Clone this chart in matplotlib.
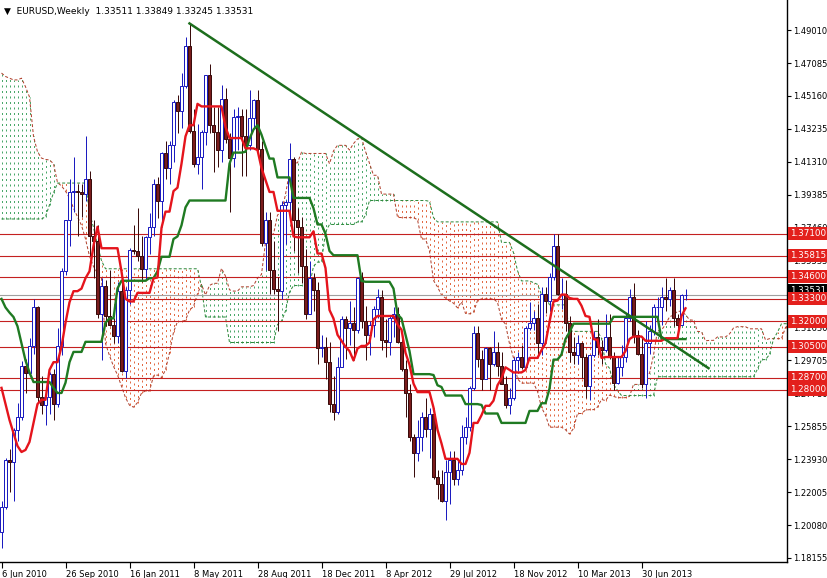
import numpy as np
import pandas as pd
import matplotlib.pyplot as plt

# EURUSD weekly bars, bar 0 = week of 6 Jun 2010 (open = previous close)
first_open = 1.1967
close = [1.2112, 1.2388, 1.2376, 1.2566, 1.2638, 1.2936, 1.2898, 1.3056, 1.3280, 1.2755,
         1.2710, 1.2756, 1.2893, 1.2716, 1.3052, 1.3493, 1.3789, 1.3955, 1.3958, 1.3957,
         1.3943, 1.4030, 1.3700, 1.3666, 1.3240, 1.3404, 1.3230, 1.3180, 1.3112, 1.3378,
         1.2906, 1.3381, 1.3616, 1.3610, 1.3578, 1.3505, 1.3693, 1.3749, 1.4000, 1.3905,
         1.4181, 1.4095, 1.4231, 1.4483, 1.4430, 1.4575, 1.4806, 1.4314, 1.4118, 1.4157,
         1.4304, 1.4640, 1.4349, 1.4307, 1.4200, 1.4501, 1.4264, 1.4155, 1.4392, 1.4397,
         1.4280, 1.4230, 1.4390, 1.4490, 1.4205, 1.3654, 1.3792, 1.3500, 1.3390, 1.3377,
         1.3880, 1.3896, 1.4150, 1.3790, 1.3750, 1.3520, 1.3240, 1.3450, 1.3380, 1.3040,
         1.3050, 1.2960, 1.2715, 1.2670, 1.2930, 1.3210, 1.3160, 1.3190, 1.3150, 1.3450,
         1.3200, 1.3120, 1.3180, 1.3270, 1.3340, 1.3090, 1.3080, 1.3220, 1.3240, 1.3080,
         1.2920, 1.2780, 1.2520, 1.2430, 1.2520, 1.2640, 1.2570, 1.2660, 1.2290, 1.2250,
         1.2150, 1.2320, 1.2390, 1.2280, 1.2330, 1.2520, 1.2580, 1.2810, 1.3130, 1.2980,
         1.2860, 1.3040, 1.2950, 1.3020, 1.2940, 1.2830, 1.2710, 1.2750, 1.2970, 1.2990,
         1.2930, 1.3160, 1.3190, 1.3220, 1.3070, 1.3360, 1.3320, 1.3460, 1.3640, 1.3360,
         1.3360, 1.3190, 1.3020, 1.3000, 1.3070, 1.2990, 1.2820, 1.3000, 1.3110, 1.3050,
         1.3030, 1.3110, 1.2990, 1.2840, 1.2930, 1.2990, 1.3220, 1.3340, 1.3120, 1.3010,
         1.2830, 1.3070, 1.3140, 1.3280, 1.3280, 1.3340, 1.3330, 1.3380, 1.3220, 1.3180,
         1.3351, 1.33531]
high = [1.2150, 1.2400, 1.2450, 1.2575, 1.2720, 1.2967, 1.2980, 1.3100, 1.3330, 1.3290,
        1.2880, 1.2770, 1.2900, 1.2920, 1.3160, 1.3510, 1.3790, 1.4030, 1.4160, 1.4000,
        1.4000, 1.4282, 1.4080, 1.3790, 1.3760, 1.3450, 1.3440, 1.3500, 1.3220, 1.3430,
        1.3440, 1.3400, 1.3630, 1.3760, 1.3860, 1.3700, 1.3700, 1.3830, 1.4030, 1.4040,
        1.4190, 1.4250, 1.4250, 1.4490, 1.4520, 1.4650, 1.4860, 1.4940, 1.4440, 1.4350,
        1.4320, 1.4640, 1.4700, 1.4450, 1.4450, 1.4580, 1.4560, 1.4300, 1.4440, 1.4450,
        1.4440, 1.4440, 1.4550, 1.4500, 1.4550, 1.4250, 1.3840, 1.3840, 1.3670, 1.3460,
        1.3900, 1.3910, 1.4240, 1.4160, 1.3860, 1.3810, 1.3620, 1.3550, 1.3480, 1.3430,
        1.3120, 1.3110, 1.3080, 1.2880, 1.2990, 1.3230, 1.3230, 1.3320, 1.3280, 1.3460,
        1.3490, 1.3290, 1.3200, 1.3290, 1.3390, 1.3380, 1.3210, 1.3230, 1.3280, 1.3280,
        1.3110, 1.2970, 1.2830, 1.2540, 1.2620, 1.2670, 1.2750, 1.2690, 1.2690, 1.2330,
        1.2330, 1.2390, 1.2440, 1.2440, 1.2390, 1.2590, 1.2640, 1.2820, 1.3170, 1.3170,
        1.3030, 1.3050, 1.3050, 1.3140, 1.3080, 1.3020, 1.2880, 1.2810, 1.2990, 1.3020,
        1.3060, 1.3170, 1.3310, 1.3260, 1.3300, 1.3400, 1.3400, 1.3480, 1.3710, 1.3710,
        1.3450, 1.3440, 1.3230, 1.3110, 1.3120, 1.3080, 1.3010, 1.3000, 1.3140, 1.3210,
        1.3090, 1.3240, 1.3240, 1.3020, 1.2990, 1.3060, 1.3250, 1.3390, 1.3420, 1.3150,
        1.3110, 1.3200, 1.3180, 1.3300, 1.3340, 1.3400, 1.3450, 1.3400, 1.3450, 1.3240,
        1.3360, 1.33849]
low = [1.1876, 1.2100, 1.2200, 1.2150, 1.2500, 1.2620, 1.2780, 1.2880, 1.3010, 1.2730,
       1.2660, 1.2590, 1.2660, 1.2620, 1.2700, 1.3000, 1.3470, 1.3640, 1.3840, 1.3700,
       1.3810, 1.3900, 1.3580, 1.3450, 1.3220, 1.2970, 1.3170, 1.3170, 1.3070, 1.3070,
       1.2900, 1.2870, 1.3300, 1.3590, 1.3550, 1.3430, 1.3440, 1.3590, 1.3700, 1.3800,
       1.3750, 1.4030, 1.4000, 1.4130, 1.4300, 1.4330, 1.4560, 1.4300, 1.4100, 1.4060,
       1.3970, 1.4230, 1.4300, 1.4070, 1.4100, 1.4130, 1.4240, 1.3840, 1.4100, 1.4200,
       1.4050, 1.4050, 1.4200, 1.4330, 1.4190, 1.3640, 1.3500, 1.3360, 1.3360, 1.3140,
       1.3330, 1.3650, 1.3790, 1.3610, 1.3480, 1.3420, 1.3210, 1.3260, 1.3260, 1.2950,
       1.2990, 1.2860, 1.2670, 1.2620, 1.2660, 1.2930, 1.2980, 1.3060, 1.2970, 1.3130,
       1.3160, 1.2970, 1.3000, 1.3110, 1.3220, 1.3030, 1.2990, 1.3000, 1.3110, 1.3070,
       1.2910, 1.2640, 1.2500, 1.2290, 1.2380, 1.2440, 1.2520, 1.2400, 1.2280, 1.2160,
       1.2140, 1.2040, 1.2130, 1.2240, 1.2240, 1.2300, 1.2480, 1.2560, 1.2800, 1.2930,
       1.2800, 1.2860, 1.2800, 1.2940, 1.2880, 1.2830, 1.2690, 1.2660, 1.2740, 1.2910,
       1.2920, 1.2930, 1.3150, 1.3150, 1.3000, 1.3000, 1.3250, 1.3260, 1.3440, 1.3350,
       1.3270, 1.3140, 1.2960, 1.2950, 1.2950, 1.2870, 1.2750, 1.2740, 1.2990, 1.3000,
       1.2950, 1.3020, 1.2980, 1.2800, 1.2830, 1.2880, 1.2960, 1.3200, 1.3070, 1.3000,
       1.2810, 1.2750, 1.3010, 1.3120, 1.3180, 1.3180, 1.3260, 1.3290, 1.3170, 1.3100,
       1.3240, 1.33245]

# indicator values read off the chart where the bars above are not enough
tenkan_early = [1.2810, 1.2716, 1.2622, 1.2546, 1.2470, 1.2435, 1.2447, 1.2494]
kijun_early = [1.3330, 1.3280, 1.3250, 1.3224, 1.3170, 1.3070, 1.2970, 1.2900, 1.2844,
               1.2844, 1.2844, 1.2844, 1.2844, 1.2810, 1.2780, 1.2780, 1.2840, 1.2960,
               1.3020, 1.3020, 1.3020, 1.3079, 1.3079, 1.3079, 1.3079]
span_a_early = [1.4650, 1.4630, 1.4620, 1.4610, 1.4610, 1.4620, 1.4570, 1.4510, 1.4280,
                1.4190, 1.4153, 1.4145, 1.4142, 1.4120, 1.4010, 1.3990, 1.3960, 1.3920,
                1.3860, 1.3810, 1.3760, 1.3680, 1.3580, 1.3520, 1.3480, 1.3450]
span_b_early = ([1.3797] * 11 + [1.3810, 1.3880, 1.3950] + [1.4007] * 8
                + [1.3834, 1.3748, 1.3645, 1.3553] + [1.3506] * 24 + [1.3400]
                + [1.3224] * 6 + [1.3075] * 12 + [1.3180, 1.3200, 1.3260, 1.3370]
                + [1.3408] * 4)

levels = [1.37100, 1.35815, 1.34600, 1.33300, 1.32000, 1.30500, 1.28700, 1.28000]
last_price = 1.33531
trend_w = [47, 176.75]
trend_p = [1.4940, 1.2925]

tick_weeks = [0, 16, 32, 48, 64, 80, 96, 112, 128, 144, 160]
tick_labels = ["6 Jun 2010", "26 Sep 2010", "16 Jan 2011", "8 May 2011", "28 Aug 2011",
               "18 Dec 2011", "8 Apr 2012", "29 Jul 2012", "18 Nov 2012", "10 Mar 2013",
               "30 Jun 2013"]
price_ticks = [1.49010, 1.47085, 1.45160, 1.43235, 1.41310, 1.39385, 1.37460, 1.35535,
               1.31630, 1.29705, 1.27780, 1.25855, 1.23930, 1.22005, 1.20080, 1.18155]

df = pd.DataFrame({"high": high, "low": low, "close": close})
df["open"] = [first_open] + close[:-1]
n = len(df)
w = np.arange(n)

# ichimoku 9/26/52
tenkan = ((df.high.rolling(9).max() + df.low.rolling(9).min()) / 2).values
tenkan[:8] = tenkan_early
kijun = ((df.high.rolling(26).max() + df.low.rolling(26).min()) / 2).values
kijun[:25] = kijun_early
span_a = np.concatenate([span_a_early, (tenkan + kijun) / 2])
span_b_calc = ((df.high.rolling(52).max() + df.low.rolling(52).min()) / 2).values
span_b = np.concatenate([span_b_early, span_b_calc[51:]])
p = np.arange(len(span_a))

px = 0.72  # one pixel in points at 100 dpi

fig = plt.figure(figsize=(8.27, 5.78), dpi=100)
ax = fig.add_axes([0, 16 / 578, 787 / 827, 562 / 578])
ax.set_xlim(-0.375, 196.375)
ax.set_ylim(1.1792, 1.5077)

# cloud hatch
up = span_a >= span_b
ax.vlines(p[up], span_b[up], span_a[up], colors="#4aa86a", lw=px,
          linestyles=(0, (2, 3.5)), zorder=1)
ax.vlines(p[~up], span_a[~up], span_b[~up], colors="#e26a44", lw=px,
          linestyles=(0, (2, 3.5)), zorder=1)
ax.plot(p, span_a, color="#b0402c", lw=px, ls=(0, (3, 2)), zorder=1.5)
ax.plot(p, span_b, color="#2f8a3c", lw=px, ls=(0, (3, 2)), zorder=1.5)

# support / resistance levels
for lv in levels:
    ax.axhline(lv, color="#c42020", lw=0.8, zorder=2)
ax.axhline(last_price, color="#a0a0a0", lw=0.8, zorder=2)

# candles
bull = df.close >= df.open
bw = 0.7
ax.vlines(w[bull], df.low[bull], df.high[bull], color="#1c1cc0", lw=px, zorder=3)
ax.vlines(w[~bull], df.low[~bull], df.high[~bull], color="#3a0c0c", lw=px, zorder=3)
ax.bar(w[bull], (df.close - df.open)[bull], bottom=df.open[bull], width=bw,
       color="white", edgecolor="#1c1cc0", lw=px, zorder=3.1)
ax.bar(w[~bull], (df.open - df.close)[~bull], bottom=df.close[~bull], width=bw,
       color="#7a1c1c", edgecolor="#3a0c0c", lw=px, zorder=3.1)

ax.plot(w, kijun, color="#1f7a22", lw=1.7, zorder=4)
ax.plot(w, tenkan, color="#e5141c", lw=1.7, zorder=4.1)
ax.plot(trend_w, trend_p, color="#1d6e1d", lw=1.8, zorder=5)

# axes look
for s in ["top", "left"]:
    ax.spines[s].set_visible(False)
for s in ["right", "bottom"]:
    ax.spines[s].set_color("black")
    ax.spines[s].set_linewidth(1)
ax.yaxis.tick_right()
ax.set_yticks(price_ticks)
ax.set_yticklabels([f"{v:.5f}" for v in price_ticks])
ax.set_xticks(tick_weeks)
ax.set_xticklabels(tick_labels, ha="left")
ax.tick_params(axis="y", direction="out", length=3, pad=1.5, labelsize=6, colors="black")
ax.tick_params(axis="x", direction="out", length=4, pad=2, labelsize=6, colors="black")

for lv in levels:
    ax.text(1.004, lv, f"{lv:.5f}", transform=ax.get_yaxis_transform(), color="white",
            fontsize=6.3, va="center", ha="left", clip_on=False, zorder=10,
            bbox=dict(boxstyle="square,pad=0.22", fc="#e3201c", ec="none"))
ax.text(1.004, last_price + 0.0025, f"{last_price:.5f}", transform=ax.get_yaxis_transform(),
        color="white", fontsize=6.3, va="center", ha="left", clip_on=False, zorder=9,
        bbox=dict(boxstyle="square,pad=0.22", fc="black", ec="none"))

fig.text(4 / 827, 1 - 12 / 578, "\u25bc  EURUSD,Weekly  1.33511 1.33849 1.33245 1.33531",
         fontsize=6.5, va="center", ha="left")

fig.savefig("out.png", dpi=100)
